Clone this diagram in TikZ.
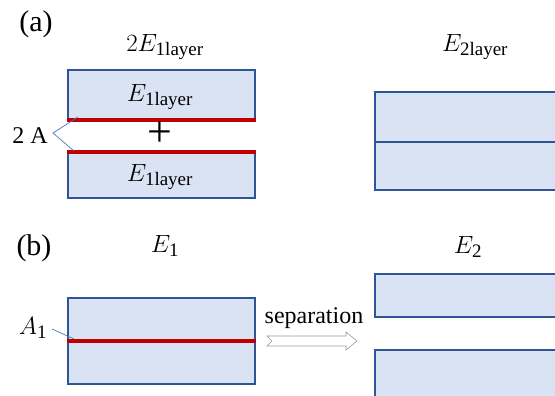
\documentclass[tikz,border=0pt]{standalone}
\usepackage{fontspec}
\setmainfont{Liberation Serif}
\definecolor{boxfill}{HTML}{DAE3F3}
\definecolor{boxline}{HTML}{2F5597}
\definecolor{redl}{HTML}{C00000}
\definecolor{leader}{HTML}{4472C4}
\newcommand{\subtx}[1]{\hbox{\fontsize{19}{19}\selectfont #1}}
\begin{document}
\begin{tikzpicture}[x=1pt,y=-1pt,
  every node/.style={inner sep=0pt, font=\fontsize{24}{28}\selectfont},
  mathlab/.style={font=\fontsize{25}{30}\selectfont},
  panel/.style={font=\fontsize{30}{34}\selectfont},
  layer/.style={draw=boxline, line width=1.6pt, fill=boxfill, rectangle, anchor=north west},
  redbar/.style={draw=redl, line width=4pt},
  leadline/.style={draw=leader, line width=0.7pt}]
\useasboundingbox (0,0) rectangle (555,396);
\clip (0,0) rectangle (555,396);
% (a)
\node[panel] (la) at (36,24) {(a)};
\node[mathlab] (t2e) at (165,47) {$2E_{\subtx{1layer}}$};
\node[layer, minimum width=187pt, minimum height=49pt] (ta) at (67,69) {};
\node[layer, minimum width=187pt, minimum height=45pt] (ba) at (67,152) {};
\draw[redbar] (ta.south west) -- (ta.south east);
\draw[redbar] (ba.north west) -- (ba.north east);
\node[mathlab] at (160,97) {$E_{\subtx{1layer}}$};
\node[mathlab] at (160,177) {$E_{\subtx{1layer}}$};
\node[font=\fontsize{44}{44}\selectfont] (plus) at (160,134) {+};
\node (twoA) at (30,136) {2 A};
\coordinate (tip) at (53,133);
\coordinate (ra) at (78,117);
\coordinate (rb) at (74,151);
\draw[leadline] (ra) -- (tip) -- (rb);
\node[mathlab] (t2l) at (475,47) {$E_{\subtx{2layer}}$};
\node[layer, minimum width=240pt, minimum height=50pt] (ra1) at (374,91) {};
\node[layer, minimum width=240pt, minimum height=48pt] (ra2) at (374,141) {};
% (b)
\node[panel] (lb) at (34,248) {(b)};
\node[mathlab] (te1) at (165,246) {$E_{\subtx{1}}$};
\node[layer, minimum width=187pt, minimum height=86pt] (b1) at (67,297) {};
\draw[redbar] (b1.west) -- (b1.east);
\node[mathlab] (a1) at (33,328) {$A_{\subtx{1}}$};
\coordinate (a1s) at (52,329);
\coordinate (a1e) at (74,339);
\draw[leadline] (a1s) -- (a1e);
\node (sep) at (314,318) {separation};
\draw[draw=gray!80, line width=0.6pt, fill=white]
  (267,336) -- (346,336) -- (346,332) -- (357,341) -- (346,350) -- (346,346) -- (267,346) -- (272,341) -- cycle;
\node[mathlab] (te2) at (468,247) {$E_{\subtx{2}}$};
\node[layer, minimum width=240pt, minimum height=43pt] (rb1) at (374,273) {};
\node[layer, minimum width=240pt, minimum height=60pt] (rb2) at (374,349) {};
\end{tikzpicture}
\end{document}
